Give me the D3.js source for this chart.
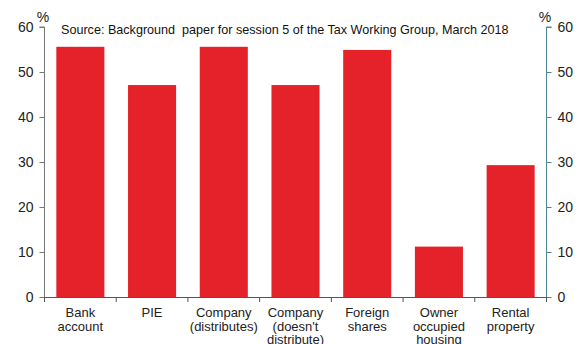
<!DOCTYPE html>
<html><head><meta charset="utf-8">
<script src="https://cdn.jsdelivr.net/npm/d3@7"></script>
<style>body{margin:0;background:#fff;} svg{display:block;font-family:"Liberation Sans",Arial,sans-serif;}</style>
</head><body><svg id="c" width="582" height="344"></svg>
<script>
const categories = [["Bank","account"],["PIE"],["Company","(distributes)"],["Company","(doesn't","distribute)"],["Foreign","shares"],["Owner","occupied","housing"],["Rental","property"]];
const values = [55.6, 47.1, 55.6, 47.1, 54.9, 11.2, 29.3];
const yTicks = [0,10,20,30,40,50,60];
const sourceText = "Source: Background  paper for session 5 of the Tax Working Group, March 2018";

const svg = d3.select("#c");
const L = 44.5, R = 546.5, T = 27, B = 297;
const x = d3.scaleBand().domain(d3.range(categories.length)).range([L, R]).paddingInner(0.33).paddingOuter(0.165);
const y = d3.scaleLinear().domain([0, 60]).range([B, T]);

svg.selectAll("rect.bar").data(values).join("rect")
  .attr("x", (d,i) => x(i)).attr("width", x.bandwidth())
  .attr("y", d => y(d)).attr("height", d => y(0) - y(d))
  .attr("fill", "#e5222a");

// left axis
const la = svg.append("g").attr("transform", `translate(${L},0)`)
  .call(d3.axisLeft(y).tickValues(yTicks).tickSize(5).tickPadding(6));
la.select(".domain").attr("stroke", "#777").attr("d", `M-5,${T}H0V${B}`);
la.selectAll(".tick line").attr("stroke", "#777");
la.selectAll("text").attr("font-size", 14).attr("fill", "#222").attr("font-family", "Liberation Sans, Arial, sans-serif");

// right axis
const ra = svg.append("g").attr("transform", `translate(${R},0)`)
  .call(d3.axisRight(y).tickValues(yTicks).tickSize(5).tickPadding(6));
ra.select(".domain").attr("stroke", "#4f8392").attr("d", `M5,${T}H0V${B}`);
ra.selectAll(".tick line").attr("stroke", "#4f8392");
ra.selectAll("text").attr("font-size", 14).attr("fill", "#222").attr("font-family", "Liberation Sans, Arial, sans-serif");

// bottom axis line and category separators
const bounds = d3.range(categories.length + 1).map(i => L + i * (R - L) / categories.length);
svg.append("line").attr("x1", L).attr("x2", R).attr("y1", B + 0.5).attr("y2", B + 0.5).attr("stroke", "#555");
svg.selectAll("line.sep").data(bounds).join("line").attr("class","sep")
  .attr("x1", d => d).attr("x2", d => d).attr("y1", B).attr("y2", B + 5).attr("stroke", "#555");

// category labels
const lab = svg.selectAll("text.cat").data(categories).join("text").attr("class","cat")
  .attr("text-anchor", "middle").attr("font-size", 13).attr("fill", "#222");
lab.each(function(d,i){
  const t = d3.select(this);
  d.forEach((line, j) => t.append("tspan").attr("x", x(i) + x.bandwidth()/2).attr("y", 317 + j*13.5).text(line));
});

// percent signs
svg.append("text").attr("x", 43).attr("y", 22).attr("text-anchor","middle").attr("font-size", 14).attr("fill","#222").text("%");
svg.append("text").attr("x", 545).attr("y", 22).attr("text-anchor","middle").attr("font-size", 14).attr("fill","#222").text("%");

// source
svg.append("text").attr("x", 61).attr("y", 34).attr("font-size", 12.6).attr("fill","#111").attr("xml:space","preserve").style("white-space","pre").text(sourceText);
</script></body></html>
